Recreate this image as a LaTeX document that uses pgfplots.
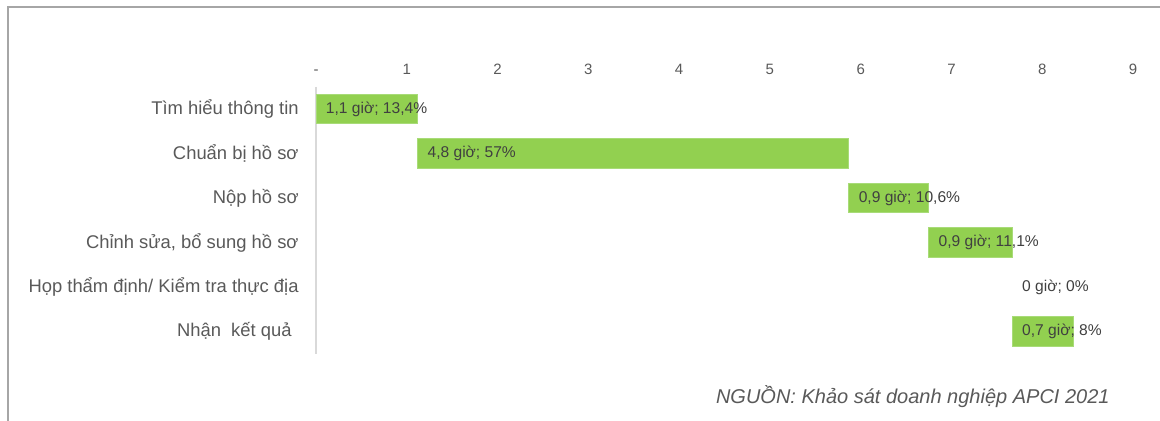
\documentclass[border=0pt]{standalone}
\usepackage{pgfplots}
\pgfplotsset{compat=1.18}
\usepackage{pgfplotstable}
\usepackage{fontspec}
\setmainfont{Liberation Sans}
\definecolor{barg}{HTML}{92D050}
\definecolor{bare}{HTML}{A8DB78}
\definecolor{txt}{HTML}{595959}
\definecolor{dtxt}{HTML}{404040}
\definecolor{frame}{HTML}{A6A6A6}
\definecolor{axl}{HTML}{D9D9D9}

\pgfplotstableread[col sep=comma]{
y,start,dur
0,0,1.12
1,1.12,4.75
2,5.87,0.88
3,6.75,0.92
4,7.67,0
5,7.67,0.67
}\steps

\pgfplotstableread[col sep=semicolon]{
y;start;lab
0;0;1,1 giờ\char59{} 13,4\%
1;1.12;4,8 giờ\char59{} 57\%
2;5.87;0,9 giờ\char59{} 10,6\%
3;6.75;0,9 giờ\char59{} 11,1\%
4;7.67;0 giờ\char59{} 0\%
5;7.67;0,7 giờ\char59{} 8\%
}\labs

\begin{document}
\begin{tikzpicture}
\path[use as bounding box] (0,0) rectangle (580pt,210.5pt);
\draw[frame, line width=1pt] (4pt,0) -- (4pt,207pt) -- (580pt,207pt);
\begin{axis}[
  at={(158pt,33.6pt)}, anchor=south west,
  scale only axis, width=408.5pt, height=133.5pt,
  xbar stacked, bar width=14.75pt,
  xmin=0, xmax=9, ymin=-0.5, ymax=5.5, y dir=reverse,
  axis x line=top, axis y line=left,
  x axis line style={draw=none},
  y axis line style={draw=axl, line width=0.6pt, -},
  major tick length=0pt,
  xtick={0,1,...,9},
  xticklabels={-,1,2,3,4,5,6,7,8,9},
  xticklabel style={font=\fontsize{7.5pt}{9pt}\selectfont, text=txt, inner sep=0pt, yshift=6pt},
  ytick={0,...,5},
  yticklabels={Tìm hiểu thông tin, Chuẩn bị hồ sơ, Nộp hồ sơ, {Chỉnh sửa, bổ sung hồ sơ}, Họp thẩm định/ Kiểm tra thực địa, Nhận\ \ kết quả\hspace*{3.5pt}},
  yticklabel style={font=\fontsize{9.2pt}{11pt}\selectfont, text=txt, inner sep=0pt, xshift=-8.5pt},
  clip=false,
]
\addplot[draw=none, fill=none] table[x=start, y=y] {\steps};
\addplot[draw=bare, line width=0.5pt, fill=barg] table[x=dur, y=y] {\steps};
\end{axis}
\begin{axis}[
  at={(158pt,33.6pt)}, anchor=south west,
  scale only axis, width=408.5pt, height=133.5pt,
  xmin=0, xmax=9, ymin=-0.5, ymax=5.5, y dir=reverse,
  hide axis, clip=false,
]
\addplot[draw=none, mark=none, nodes near coords, point meta=explicit symbolic,
  every node near coord/.append style={anchor=west, inner sep=0pt, xshift=4.75pt, yshift=0pt,
    font=\fontsize{7.8pt}{9pt}\selectfont, text=dtxt}]
  table[x=start, y=y, meta=lab] {\labs};
\end{axis}
\node[anchor=east, inner sep=0pt, font=\fontsize{10pt}{12pt}\selectfont\itshape, text=txt] at (555pt,12pt) {NGUỒN: Khảo sát doanh nghiệp APCI 2021};
\end{tikzpicture}
\end{document}
